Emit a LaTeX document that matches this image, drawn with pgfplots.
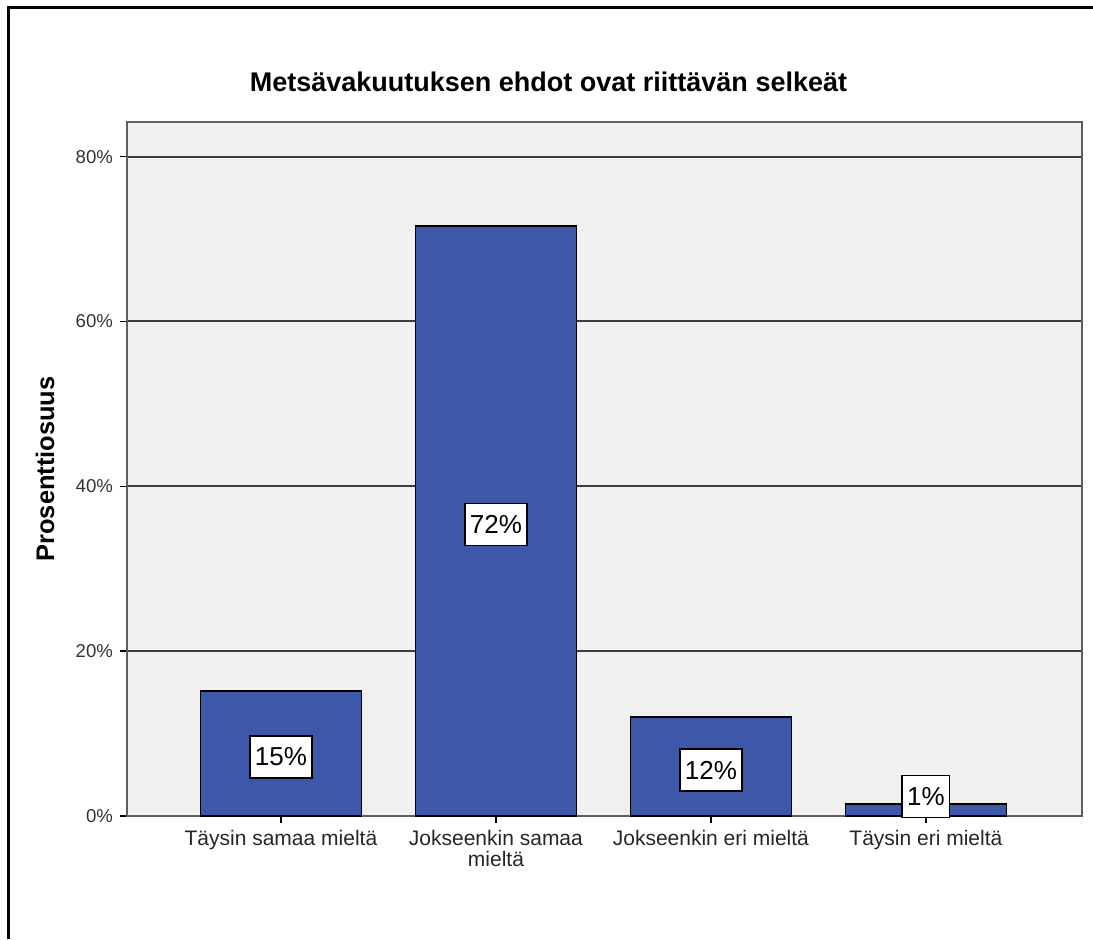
\documentclass[border=0pt]{standalone}
\usepackage{pgfplots}
\pgfplotsset{compat=1.18}
\usepackage{pgfplotstable}
\usepackage{fontspec}
\setmainfont{Liberation Sans}
\definecolor{barblue}{HTML}{3D57A9}
\definecolor{plotbg}{HTML}{F0F0F0}
\definecolor{framegray}{HTML}{5F5F5F}
\definecolor{gridgray}{HTML}{3C3C3C}
\pgfplotstableread{
x v lab
0 15.15 15
1 71.6 72
2 12.0 12
3 1.45 1
}\data
\begin{document}
\begin{tikzpicture}[x=1pt,y=1pt]
\useasboundingbox (0,0) rectangle (546.5,469.5);
\draw[line width=1.5pt] (4,0) -- (4,465.5) -- (546.5,465.5);
\begin{axis}[
  at={(63.5pt,61.5pt)}, anchor=south west,
  scale only axis, width=477.5pt, height=347pt,
  xmin=-0.716, xmax=3.726, ymin=0, ymax=84.2,
  axis background/.style={fill=plotbg},
  axis line style={framegray, line width=1pt},
  ytick={0,20,40,60,80},
  yticklabel={\pgfmathprintnumber{\tick}\%},
  xtick={0,1,2,3},
  xticklabels={Täysin samaa mieltä, {Jokseenkin samaa\\mieltä}, Jokseenkin eri mieltä, Täysin eri mieltä},
  xticklabel style={align=center, font=\fontsize{10.5}{10.5}\selectfont, text=black!85},
  yticklabel style={font=\fontsize{9.3}{11}\selectfont, text=black!80},
  ymajorgrids, major grid style={gridgray, line width=1pt},
  tick style={black, line width=0.8pt},
  major tick length=3.5pt,
  tick align=outside,
  xtick pos=bottom, ytick pos=left,
  /pgf/number format/assume math mode=true,
  ylabel={Prosenttiosuus},
  ylabel style={at={(axis description cs:-0.0859,0.5)}, anchor=center, rotate=0, font=\bfseries\fontsize{12.7}{14}\selectfont},
]
\addplot[ybar, bar width=80.5pt, fill=barblue, draw=black, line width=0.75pt] table[x=x, y=v] {\data};
\addplot[draw=none, mark=none, point meta=explicit,
  nodes near coords={\pgfmathprintnumber{\pgfplotspointmeta}\%},
  every node near coord/.append style={anchor=center, draw=black, fill=white, line width=0.75pt, inner xsep=2.5pt, inner ysep=0pt, minimum height=21pt, text=black, font=\fontsize{13}{13}\selectfont}]
  table[x=x, y expr={max(\thisrow{v}/2-0.42,2.36)}, meta=lab] {\data};
\end{axis}
\node[anchor=base, font=\bfseries\fontsize{13.5}{16}\selectfont] at (274.25,423.5) {Metsävakuutuksen ehdot ovat riittävän selkeät};
\end{tikzpicture}
\end{document}
